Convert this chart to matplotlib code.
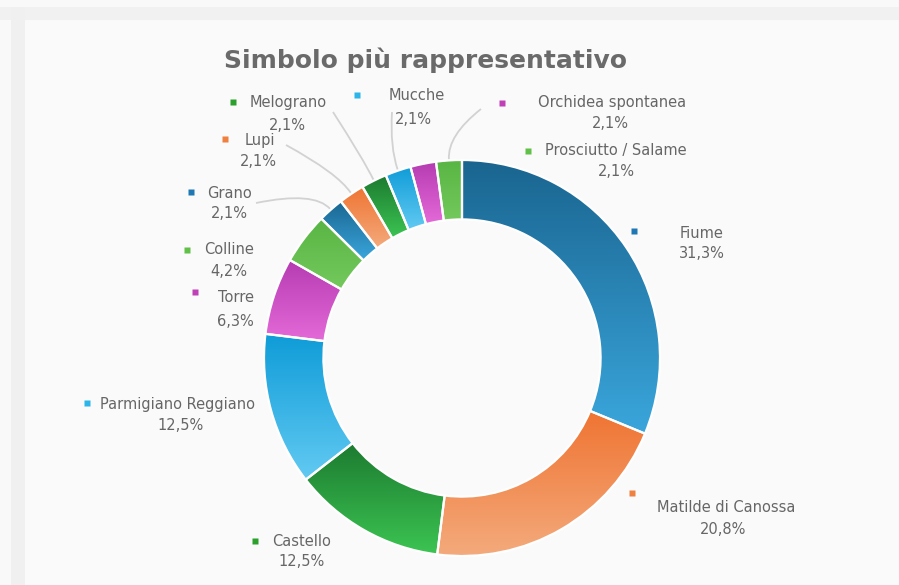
import numpy as np
import matplotlib
matplotlib.use("Agg")
import matplotlib.pyplot as plt
from matplotlib.patches import Wedge, Rectangle
from matplotlib.path import Path
from matplotlib.patches import PathPatch
from matplotlib.colors import to_rgb

# ---- data -------------------------------------------------------------
categories = ["Fiume", "Matilde di Canossa", "Castello", "Parmigiano Reggiano",
              "Torre", "Colline", "Grano", "Lupi", "Melograno", "Mucche",
              "Orchidea spontanea", "Prosciutto / Salame"]
shares = [31.3, 20.8, 12.5, 12.5, 6.3, 4.2, 2.1, 2.1, 2.1, 2.1, 2.1, 2.1]
title = "Simbolo più rappresentativo"

# palette (top colour, bottom colour) cycled over the slices
palette = [("#1a6590", "#3aa6dc"),
           ("#ef7432", "#f4aa7c"),
           ("#1c7a30", "#3cc452"),
           ("#0f9cd8", "#62caf2"),
           ("#b53bb2", "#e46ad8"),
           ("#58b544", "#74c95c")]
marker_colors = ["#1f77b4", "#f08040", "#2ca02c", "#2bb5e8", "#c040b8", "#60c048"]

# ---- layout (pixel space, y downwards) ------------------------------
W, H = 899, 585
cx, cy = 462, 358
R = 198
ring = 0.30 * R

# label anchors: (marker x, marker y, name x, name y, pct x, pct y)
label_pos = [
    (634, 231, 702, 233, 702, 253),
    (632, 493, 726, 508, 723, 530),
    (255, 541, 302, 542, 302, 562),
    (87, 403, 178, 405, 181, 425),
    (195, 292, 236, 298, 235, 321),
    (187, 250, 229, 250, 229, 272),
    (191, 192, 230, 193, 229, 214),
    (225, 139, 260, 140, 258, 161),
    (233, 102, 288, 102, 287, 125),
    (357, 95, 417, 96, 413, 119),
    (502, 103, 612, 102, 610, 124),
    (528, 151, 616, 151, 616, 172),
]
# leader line end points near the labels, keyed by slice index
leaders = {6: (256, 203), 7: (286, 145), 8: (333, 112), 9: (392, 112), 11: (481, 109)}

fig = plt.figure(figsize=(W / 100, H / 100), dpi=100, facecolor="#f9f9f9")
ax = fig.add_axes([0, 0, 1, 1])
ax.set_xlim(0, W)
ax.set_ylim(H, 0)
ax.set_aspect("equal")
ax.axis("off")

# card frame
ax.add_patch(Rectangle((0, 7), W, 13, facecolor="#f1f1f1", edgecolor="none", zorder=0))
ax.add_patch(Rectangle((11, 7), 14, H, facecolor="#f0f0f0", edgecolor="none", zorder=0))
ax.add_patch(Rectangle((25, 21), W - 25, H - 21, facecolor="#fafafa", edgecolor="none", zorder=0))

total = sum(shares)
start = -90.0
mids = []
for i, (name, val) in enumerate(zip(categories, shares)):
    span = 360.0 * val / total
    t1, t2 = start, start + span
    mids.append(np.deg2rad((t1 + t2) / 2))
    top_c, bot_c = palette[i % len(palette)]
    w = Wedge((cx, cy), R, t1, t2, width=ring, facecolor="none", edgecolor="none", zorder=1)
    ax.add_patch(w)
    ext = w.get_path().get_extents()
    grad = np.linspace(0, 1, 128)[:, None, None]
    img = (1 - grad) * np.array(to_rgb(top_c)) + grad * np.array(to_rgb(bot_c))
    im = ax.imshow(img, extent=(ext.x0, ext.x1, ext.y1, ext.y0), origin="upper",
                   interpolation="bilinear", aspect="auto", zorder=2)
    im.set_clip_path(w)
    ax.add_patch(Wedge((cx, cy), R, t1, t2, width=ring, facecolor="none",
                       edgecolor="white", lw=1.6, zorder=3))
    start = t2

ax.set_xlim(0, W)
ax.set_ylim(H, 0)

# leader lines
for i, (ex, ey) in leaders.items():
    a = mids[i]
    sx, sy = cx + (R + 1) * np.cos(a), cy + (R + 1) * np.sin(a)
    kx, ky = cx + (R + 25) * np.cos(a), cy + (R + 25) * np.sin(a)
    path = Path([(sx, sy), (kx, ky), (ex, ey)], [Path.MOVETO, Path.CURVE3, Path.CURVE3])
    ax.add_patch(PathPatch(path, facecolor="none", edgecolor="#d2d2d2", lw=1.3, zorder=1.5))

# labels
txt_kw = dict(color="#666666", fontsize=10.5, ha="center", va="center",
              family=["DejaVu Sans"])
for i, name in enumerate(categories):
    mx, my, nx, ny, px, py = label_pos[i]
    ax.plot(mx, my, marker="s", ms=3.8, color=marker_colors[i % 6], mec="none", zorder=4)
    ax.text(nx, ny, name, **txt_kw)
    ax.text(px, py, f"{shares[i]:.1f}%".replace(".", ","), **txt_kw)

ax.text(426, 60, title, ha="center", va="center", fontsize=18, fontweight="bold",
        color="#6a6a6a", family=["DejaVu Sans"])

fig.savefig("out.png", dpi=100, facecolor=fig.get_facecolor())
